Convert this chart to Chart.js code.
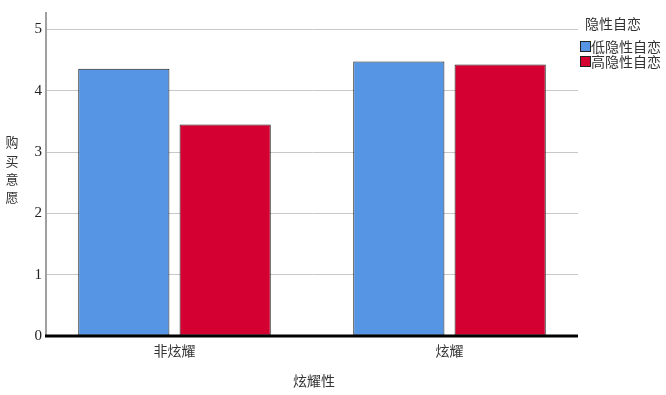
<!DOCTYPE html>
<html>
<head>
<meta charset="utf-8">
<script src="https://cdn.jsdelivr.net/npm/chart.js@4/dist/chart.umd.min.js"></script>
<style>
    body { margin: 0; background: #fff; }
    .wrap { width: 666px; height: 395px; position: relative; }
</style>
</head>
<body>
<div class="wrap"><canvas id="chart"></canvas></div>
<script>
// --- Data ---
const categories = ['非炫耀', '炫耀'];
const lowSeries = [4.36, 4.48];
const highSeries = [3.45, 4.43];
const seriesNames = ['低隐性自恋', '高隐性自恋'];
const yTicks = [0, 1, 2, 3, 4, 5];
const legendTitle = '隐性自恋';
const xTitle = '炫耀性';
const yTitle = '购买意愿';

const colors = ['#5595e3', '#d50032'];
const cjk = '"Noto Sans CJK SC", "Noto Sans", sans-serif';

// pull the category centres slightly apart, like the original layout
const widenX = {
    id: 'widenX',
    afterLayout(chart) {
        const x = chart.scales.x;
        x.left -= 9;
        x.right += 9;
        x.width += 18;
        x.configure();
    }
};

// zero line, axis titles and legend
const extras = {
    id: 'extras',
    afterDatasetsDraw(chart) {
        const { ctx, chartArea } = chart;
        const y0 = chart.scales.y.getPixelForValue(0);
        ctx.save();
        ctx.strokeStyle = '#000';
        ctx.lineWidth = 3;
        ctx.beginPath();
        ctx.moveTo(chartArea.left - 1, y0);
        ctx.lineTo(chartArea.right, y0);
        ctx.stroke();

        ctx.fillStyle = '#333';
        ctx.textAlign = 'center';
        ctx.textBaseline = 'middle';
        ctx.font = '14px ' + cjk;
        ctx.fillText(xTitle, 314, 381);

        ctx.font = '13px ' + cjk;
        const mid = (chartArea.top + chartArea.bottom) / 2;
        [...yTitle].forEach((ch, i) => {
            ctx.fillText(ch, 12, mid - 32 + i * 18.3);
        });

        // legend
        ctx.textAlign = 'left';
        ctx.font = '14px ' + cjk;
        ctx.fillText(legendTitle, 585, 24);
        seriesNames.forEach((name, i) => {
            const cy = 47 + i * 15;
            ctx.fillStyle = colors[i];
            ctx.fillRect(580.5, cy - 5.5, 10, 10);
            ctx.strokeStyle = '#222';
            ctx.lineWidth = 1;
            ctx.strokeRect(580.5, cy - 5.5, 10, 10);
            ctx.fillStyle = '#333';
            ctx.fillText(name, 591, cy);
        });
        ctx.restore();
    }
};

new Chart(document.getElementById('chart'), {
    type: 'bar',
    data: {
        labels: categories,
        datasets: [
            { label: seriesNames[0], data: lowSeries, backgroundColor: colors[0] },
            { label: seriesNames[1], data: highSeries, backgroundColor: colors[1] }
        ]
    },
    options: {
        responsive: true,
        maintainAspectRatio: false,
        animation: false,
        layout: { padding: { top: 9, right: 88, left: 0, bottom: 0 } },
        datasets: {
            bar: {
                categoryPercentage: 0.737,
                barPercentage: 0.9,
                borderColor: '#1e1e1e',
                borderWidth: 1,
                borderSkipped: false
            }
        },
        plugins: {
            legend: { display: false },
            tooltip: { enabled: false }
        },
        scales: {
            x: {
                grid: { display: false, drawTicks: false },
                border: { display: false },
                ticks: {
                    color: '#333',
                    font: { family: cjk, size: 14 },
                    padding: 6,
                    maxRotation: 0,
                    autoSkip: false
                },
                afterFit: (scale) => { scale.height = 59; }
            },
            y: {
                min: 0,
                max: 5.27,
                afterBuildTicks: (axis) => {
                    axis.ticks = yTicks.map(v => ({ value: v }));
                },
                grid: {
                    drawTicks: false,
                    color: (c) => c.tick && c.tick.value === 0 ? 'rgba(0,0,0,0)' : '#c8c8c8',
                    lineWidth: 1
                },
                border: { color: '#a0a0a0', width: 2 },
                ticks: {
                    color: '#222',
                    font: { family: '"Liberation Serif", serif', size: 15 },
                    padding: 4
                },
                afterFit: (scale) => { scale.width = 46; }
            }
        }
    },
    plugins: [widenX, extras]
});
</script>
</body>
</html>
